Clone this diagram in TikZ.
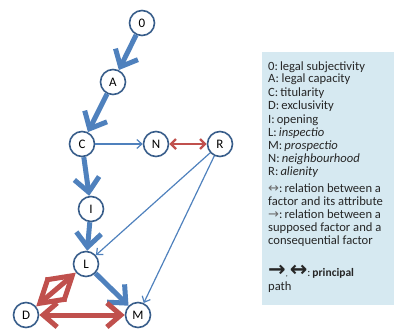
\documentclass[tikz,border=0pt]{standalone}
\usepackage{fontspec}
\setmainfont{Carlito}
\newfontfamily\symfont{DejaVu Sans}
\usetikzlibrary{arrows.meta}
\definecolor{nodeedge}{HTML}{385D8A}
\definecolor{mainblue}{HTML}{4F81BD}
\definecolor{mainred}{HTML}{C0504D}
\definecolor{legendbg}{HTML}{D6E9F1}
\definecolor{symgray}{HTML}{6A6A6A}
\begin{document}
\begin{tikzpicture}[x=1pt,y=-1pt,
  factor/.style={circle,draw=nodeedge,line width=1.6pt,fill=white,minimum size=25pt,inner sep=0pt,font=\fontsize{13}{14}\selectfont},
  principal/.style={mainblue,line width=5pt,-{Straight Barb[length=14pt,width=25pt]}},
  consequent/.style={mainblue,line width=1.2pt,-{Straight Barb[length=5pt,width=9pt]}},
  attribute/.style={mainred,line width=2.4pt,{Straight Barb[length=5pt,width=10pt]}-{Straight Barb[length=5pt,width=10pt]}},
  mainattr/.style={mainred,line width=5pt,{Straight Barb[length=14pt,width=24pt]}-{Straight Barb[length=14pt,width=24pt]}},
  bigattr/.style={mainred,line width=5pt,{Straight Barb[length=23pt,width=28pt]}-{Straight Barb[length=23pt,width=28pt]}},
  legendline/.style={anchor=base west,inner sep=0pt,font=\fontsize{12.6}{13}\selectfont,text=black!85},
  legendsym/.style={}
]
\useasboundingbox (0,0) rectangle (395,329);

% legend panel
\fill[legendbg] (262,52) rectangle (394,305);
\node[legendline] (l1) at (268,70) {0:\,legal subjectivity};
\node[legendline] (l2) at (268,82.5) {A:\ legal capacity};
\node[legendline] (l3) at (268,96) {C:\,titularity};
\node[legendline] (l4) at (268,109) {D:\,exclusivity};
\node[legendline] (l5) at (268,123) {I:\,opening};
\node[legendline] (l6) at (268,136) {L:\,\textit{inspectio}};
\node[legendline] (l7) at (268,149) {M:\,\textit{prospectio}};
\node[legendline] (l8) at (268,162) {N:\,\textit{neighbourhood}};
\node[legendline] (l9) at (268,175) {R:\,\textit{alienity}};
\node[legendline] (l10) at (268,192) {\smash{\symfont\fontsize{13}{13}\selectfont\color{symgray}↔}:\,relation between a};
\node[legendline] (l11) at (268,205) {factor and its attribute};
\node[legendline] (l12) at (268,218) {\smash{\symfont\fontsize{13}{13}\selectfont\color{symgray}→}:\,relation between a};
\node[legendline] (l13) at (268,231) {supposed factor and a};
\node[legendline] (l14) at (268,244.5) {consequential factor};
\node[legendline] (l15) at (268,276) {{\symfont\bfseries\fontsize{21}{21}\selectfont →}{\fontsize{8}{8}\selectfont,}\,{\symfont\bfseries\fontsize{21}{21}\selectfont ↔}{\fontsize{11.5}{11.5}\selectfont :\,\textbf{principal}}};
\node[legendline] (l16) at (268,290) {path};

% factors
\node[factor] (n0) at (142,23) {0};
\node[factor] (nA) at (113,82) {A};
\node[factor] (nC) at (82,144) {C};
\node[factor] (nN) at (156,144) {N};
\node[factor] (nR) at (220,144) {R};
\node[factor] (nI) at (91,209) {I};
\node[factor] (nL) at (86,264) {L};
\node[factor] (nD) at (26,315) {D};
\node[factor] (nM) at (138,315) {M};

% principal path
\draw[principal] (n0) -- (nA);
\draw[principal] (nA) -- (nC);
\draw[principal] (nC) -- (nI);
\draw[principal] (nI) -- (nL);
\draw[principal] (nL) -- (nM);
\draw[bigattr] (nL) -- (nD);
\draw[mainattr] (nD) -- (nM);

% secondary relations
\draw[consequent] (nC) -- (nN);
\draw[consequent] (nR) -- (nL);
\draw[consequent] (nR) -- (nM);
\draw[attribute] (nN) -- (nR);
\end{tikzpicture}
\end{document}
